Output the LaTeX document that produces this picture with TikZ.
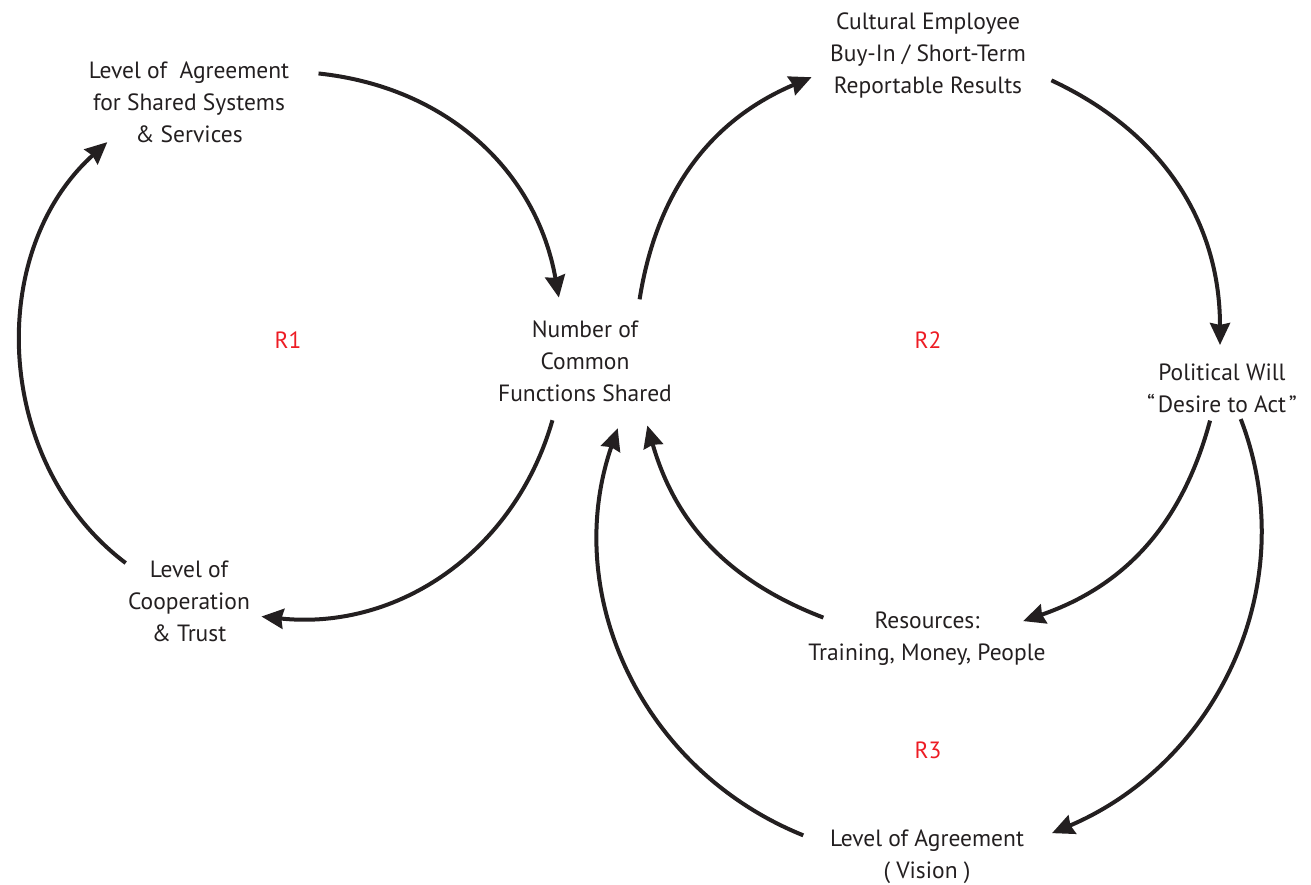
\documentclass[tikz,border=0pt]{standalone}
\usepackage{fontspec}
\setmainfont{PT Sans}
\usetikzlibrary{calc,arrows.meta}
\definecolor{ink}{RGB}{35,31,32}
\definecolor{loopred}{RGB}{237,28,36}

\begin{document}
\begin{tikzpicture}[x=1pt,y=1pt,
  every node/.style={align=center,inner sep=0pt,text=ink,font=\fontsize{23.5}{32}\selectfont},
  link/.style={draw=ink,line width=4pt,-{Stealth[length=22pt,width=20pt,inset=2pt]}},
  loop_label/.style={text=loopred}]
\useasboundingbox (0,0) rectangle (1311,884);

% loop centres
\coordinate (c1) at (290,539);
\coordinate (c2) at (928,539);
\coordinate (c3) at (925,350);

% Loop R1
\node (agree) at ($ (c1) + (-101,243) $) {Level of\ \ Agreement\\for Shared Systems\\\& Services};
\node (number) at ($ (c1) + (295,-16) $) {Number of\\Common\\Functions Shared};
\node (coop) at ($ (c1) + (-101,-256) $) {Level of\\Cooperation\\\& Trust};
\node[loop_label] (r_one) at ($ (c1) + (-2,5) $) {R1};

\coordinate (agree_out) at ($ (c1) + (84:273) $);
\coordinate (number_in) at ($ (c1) + (10:273) $);
\coordinate (number_out) at ($ (c1) + (-16:273) $);
\coordinate (coop_in) at ($ (c1) + (-96:273) $);
\coordinate (coop_out) at ($ (c1) + (233:273) $);
\coordinate (agree_in) at ($ (c1) + (132:273) $);
\draw[link,out=-6,in=100] (agree_out) to (number_in);
\draw[link,out=-106,in=-6] (number_out) to (coop_in);
\draw[link,out=143,in=222] (coop_out) to (agree_in);

% Loop R2
\node (cultural) at ($ (c2) + (0,290) $) {Cultural Employee\\Buy-In / Short-Term\\Reportable Results};
\node (political) at ($ (c2) + (294,-43) $) {Political Will\\“\hspace{0.12em}Desire to Act\hspace{0.12em}”};
\node (resources) at ($ (c2) + (-1,-294) $) {Resources:\\Training, Money, People};
\node[loop_label] (r_two) at ($ (c2) + (0,5) $) {R2};

\coordinate (number_up) at ($ (c2) + (171:292) $);
\coordinate (cultural_in) at ($ (c2) + (113.5:292) $);
\coordinate (cultural_out) at ($ (c2) + (65:292) $);
\coordinate (political_in) at ($ (c2) + (0:292) $);
\coordinate (political_out) at ($ (c2) + (-15:292) $);
\coordinate (resources_in) at ($ (c2) + (-71:292) $);
\coordinate (resources_out) at ($ (c2) + (249:292) $);
\coordinate (number_right) at ($ (c2) + (196:292) $);
\draw[link,out=81,in=203] (number_up) to (cultural_in);
\draw[link,out=-25,in=90] (cultural_out) to (political_in);
\draw[link,out=-105,in=19] (political_out) to (resources_in);
\draw[link,out=159,in=286] (resources_out) to (number_right);

% Loop R3, round the outside of R2's lower half
\node (vision) at ($ (c3) + (2,-323) $) {Level of Agreement\\( Vision )};
\node[loop_label] (r_three) at ($ (c3) + (3,-216) $) {R3};

\coordinate (political_down) at ($ (c3) + (20:336) $);
\coordinate (vision_in) at ($ (c3) + (-67:325) $);
\coordinate (vision_out) at ($ (c3) + (248:325) $);
\coordinate (number_left) at ($ (c3) + (161:325) $);
\draw[link,out=-69,in=23] (political_down) to (vision_in);
\draw[link,out=158,in=251] (vision_out) to (number_left);
\end{tikzpicture}
\end{document}
